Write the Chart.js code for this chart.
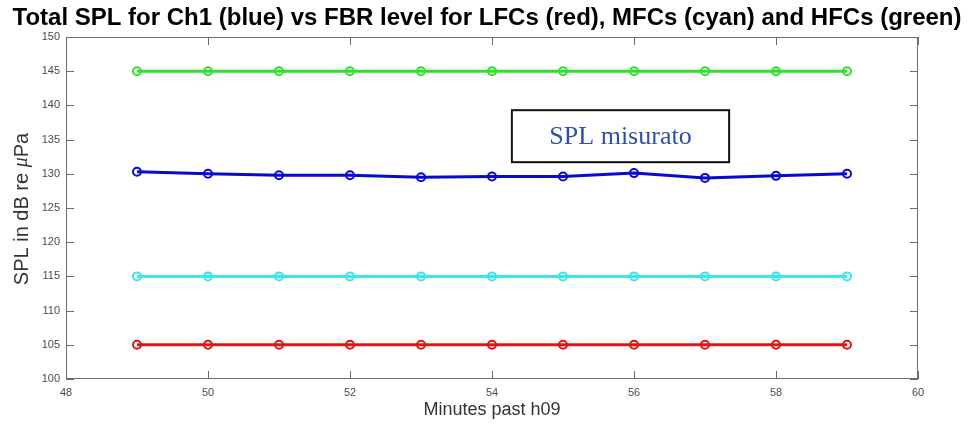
<!DOCTYPE html>
<html>
<head>
<meta charset="utf-8">
<script src="https://cdn.jsdelivr.net/npm/chart.js@4"></script>
<style>
  html, body { margin: 0; padding: 0; background: #fff; }
</style>
</head>
<body>
<canvas id="splChart" width="974" height="428"></canvas>
<script>
// minutes past 09:00 and levels in dB re 1 uPa
const minutes = [49, 50, 51, 52, 53, 54, 55, 56, 57, 58, 59];
const ch1Spl = [130.3, 130.0, 129.8, 129.8, 129.5, 129.6, 129.6, 130.1, 129.4, 129.7, 130.0];
const lfcLevel = [105, 105, 105, 105, 105, 105, 105, 105, 105, 105, 105];
const mfcLevel = [115, 115, 115, 115, 115, 115, 115, 115, 115, 115, 115];
const hfcLevel = [145, 145, 145, 145, 145, 145, 145, 145, 145, 145, 145];
const xTicks = [48, 50, 52, 54, 56, 58, 60];
const yTicks = [100, 105, 110, 115, 120, 125, 130, 135, 140, 145, 150];

const seriesColors = { ch1: '#0a0acc', lfc: '#e01414', mfc: '#3ae6e6', hfc: '#2fe02f' };
const sans = 'Arial, "Liberation Sans", sans-serif';

function series(label, values, color) {
    return {
        label: label,
        data: minutes.map((m, i) => ({ x: m, y: values[i] })),
        borderColor: color,
        backgroundColor: 'transparent',
        borderWidth: 3,
        pointRadius: 4,
        pointBorderWidth: 2,
        pointBackgroundColor: 'transparent',
        pointBorderColor: color,
        tension: 0
    };
}

// axes box, inward ticks, y label and the text box
const matlabFrame = {
    id: 'matlabFrame',
    afterDraw(chart) {
        const ctx = chart.ctx;
        const a = chart.chartArea;
        const xs = chart.scales.x, ys = chart.scales.y;
        ctx.save();
        ctx.strokeStyle = '#6a6a6a';
        ctx.lineWidth = 1;
        ctx.strokeRect(a.left + 0.5, a.top + 0.5, a.right - a.left - 1, a.bottom - a.top - 1);
        ctx.beginPath();
        xTicks.forEach(v => {
            const px = Math.round(xs.getPixelForValue(v)) + 0.5;
            ctx.moveTo(px, a.bottom); ctx.lineTo(px, a.bottom - 8);
            ctx.moveTo(px, a.top); ctx.lineTo(px, a.top + 8);
        });
        yTicks.forEach(v => {
            const py = Math.round(ys.getPixelForValue(v)) + 0.5;
            ctx.moveTo(a.left, py); ctx.lineTo(a.left + 8, py);
            ctx.moveTo(a.right, py); ctx.lineTo(a.right - 8, py);
        });
        ctx.stroke();

        // y axis label with italic mu
        ctx.translate(22, (a.top + a.bottom) / 2 + 1);
        ctx.rotate(-Math.PI / 2);
        ctx.fillStyle = '#333';
        ctx.textBaseline = 'middle';
        const parts = [
            { t: 'SPL in dB re ', f: '20px ' + sans },
            { t: 'μ', f: 'italic 20px "Liberation Serif", serif' },
            { t: 'Pa', f: '20px ' + sans }
        ];
        let total = 0;
        parts.forEach(p => { ctx.font = p.f; total += ctx.measureText(p.t).width; });
        let x0 = -total / 2;
        ctx.textAlign = 'left';
        parts.forEach(p => { ctx.font = p.f; ctx.fillText(p.t, x0, 0); x0 += ctx.measureText(p.t).width; });
        ctx.restore();

        // "SPL misurato" box
        ctx.save();
        const bx0 = xs.getPixelForValue(54.28), bx1 = xs.getPixelForValue(57.34);
        const by0 = ys.getPixelForValue(139.3), by1 = ys.getPixelForValue(131.7);
        ctx.fillStyle = '#fff';
        ctx.fillRect(bx0, by0, bx1 - bx0, by1 - by0);
        ctx.strokeStyle = '#111';
        ctx.lineWidth = 2;
        ctx.strokeRect(bx0, by0, bx1 - bx0, by1 - by0);
        ctx.fillStyle = '#2f52a0';
        ctx.font = '26px "Liberation Serif", "Times New Roman", serif';
        ctx.textAlign = 'center';
        ctx.textBaseline = 'middle';
        ctx.fillText('SPL misurato', (bx0 + bx1) / 2, (by0 + by1) / 2 + 1);
        ctx.restore();
    }
};

new Chart(document.getElementById('splChart'), {
    type: 'line',
    data: {
        datasets: [
            series('HFCs', hfcLevel, seriesColors.hfc),
            series('Ch1', ch1Spl, seriesColors.ch1),
            series('MFCs', mfcLevel, seriesColors.mfc),
            series('LFCs', lfcLevel, seriesColors.lfc)
        ]
    },
    options: {
        responsive: false,
        animation: false,
        layout: { padding: 0 },
        plugins: {
            legend: { display: false },
            tooltip: { enabled: false },
            title: {
                display: true,
                text: 'Total SPL for Ch1 (blue) vs FBR level for LFCs (red), MFCs (cyan) and HFCs (green)',
                color: '#000',
                font: { family: sans, size: 24, weight: 'bold', lineHeight: 1 },
                padding: { top: 6, bottom: 7 }
            }
        },
        scales: {
            x: {
                type: 'linear',
                min: 48,
                max: 60,
                afterBuildTicks: s => { s.ticks = xTicks.map(v => ({ value: v })); },
                afterFit: s => { s.height = 49; },
                grid: { display: false, drawTicks: false },
                border: { display: false },
                ticks: { color: '#4a4a4a', font: { family: sans, size: 11 }, padding: 7, maxRotation: 0 },
                title: {
                    display: true,
                    text: 'Minutes past h09',
                    color: '#333',
                    font: { family: sans, size: 18 },
                    padding: { top: 2, bottom: 7 }
                }
            },
            y: {
                type: 'linear',
                min: 100,
                max: 150,
                afterBuildTicks: s => { s.ticks = yTicks.map(v => ({ value: v })); },
                afterFit: s => { s.width = 66; },
                grid: { display: false, drawTicks: false },
                border: { display: false },
                ticks: { color: '#4a4a4a', font: { family: sans, size: 11 }, padding: 6 }
            },
            // empty right-hand axis keeps the margin on the right of the box
            yRight: {
                type: 'linear',
                position: 'right',
                min: 100,
                max: 150,
                afterFit: s => { s.width = 56; },
                grid: { display: false, drawTicks: false },
                border: { display: false },
                ticks: { display: false }
            }
        }
    },
    plugins: [matlabFrame]
});
</script>
</body>
</html>
